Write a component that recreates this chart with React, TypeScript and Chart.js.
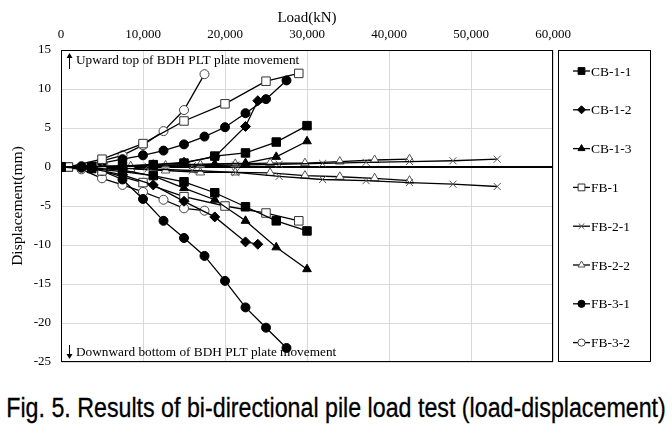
import { useEffect, useRef } from 'react';
import { Chart, registerables } from 'chart.js';
import { drawPoint } from 'chart.js/helpers';

Chart.register(...registerables);

const xTickValues = [0, 10000, 20000, 30000, 40000, 50000, 60000];
const yTickValues = [15, 10, 5, 0, -5, -10, -15, -20, -25];

const seriesNames = ['CB-1-1', 'CB-1-2', 'CB-1-3', 'FB-1', 'FB-2-1', 'FB-2-2', 'FB-3-1', 'FB-3-2'];

// CB-1-1
const cb11Load = [0, 3750, 7500, 11250, 15000, 18750, 22500, 26250, 30000];
const cb11Up = [0, 0.05, 0.15, 0.3, 0.5, 1.4, 1.8, 3.2, 5.3];
const cb11Down = [0, -0.2, -0.6, -1.1, -1.9, -3.3, -5.1, -6.9, -8.2];

// CB-1-2
const cb12Load = [0, 3750, 7500, 11250, 15000, 18750, 22500, 24000];
const cb12Up = [0, 0.05, 0.1, 0.3, 0.6, 1.3, 5.2, 8.5];
const cb12Down = [0, -0.2, -1.0, -2.3, -4.4, -6.4, -9.6, -9.9];

// CB-1-3
const cb13Load = [0, 3750, 7500, 11250, 15000, 18750, 22500, 26250, 30000];
const cb13Up = [0, 0.05, 0.1, 0.2, 0.3, 0.4, 0.5, 1.3, 3.3];
const cb13Down = [0, -0.1, -0.4, -1.15, -2.7, -4.2, -6.9, -10.3, -13.1];

// FB-1
const fb1Load = [900, 5000, 10000, 15000, 20000, 25000, 29000];
const fb1Up = [0, 1.0, 3.0, 5.9, 8.1, 11.0, 12.0];
const fb1Down = [0, -0.5, -2.0, -3.8, -5.0, -5.9, -6.9];

// FB-2-1
const fb21Load = [0, 5300, 10600, 16000, 21300, 26600, 31900, 37200, 42500, 47800, 53200];
const fb21Up = [0, 0.05, 0.1, 0.15, 0.25, 0.35, 0.47, 0.6, 0.7, 0.8, 1.0];
const fb21Down = [0, -0.1, -0.25, -0.45, -0.7, -1.2, -1.6, -1.75, -2.0, -2.2, -2.5];

// FB-2-2
const fb22Load = [0, 4250, 8500, 12750, 17000, 21250, 25500, 29750, 34000, 38250, 42500];
const fb22Up = [0, 0.05, 0.1, 0.2, 0.3, 0.4, 0.5, 0.5, 0.7, 0.9, 1.0];
const fb22Down = [0, -0.1, -0.25, -0.45, -0.7, -0.7, -0.75, -1.1, -1.25, -1.45, -1.75];

// FB-3-1
const fb31Load = [0, 2500, 5000, 7500, 10000, 12500, 15000, 17500, 20000, 22500, 25000, 27500];
const fb31Up = [0, 0.1, 0.5, 1.0, 1.5, 2.1, 2.9, 3.9, 5.1, 6.9, 8.7, 11.1];
const fb31Down = [0, -0.1, -0.5, -1.6, -4.1, -6.9, -9.1, -11.4, -14.6, -18.0, -20.6, -23.2];

// FB-3-2
const fb32Load = [0, 2500, 5000, 7500, 10000, 12500, 15000, 17500];
const fb32Up = [0, 0, 0.8, 1.5, 2.8, 4.6, 7.3, 11.9];
const fb32Down = [0, -0.3, -1.45, -2.3, -3.2, -4.2, -5.3, -5.6];

type Style = { pointStyle: string; radius: number; fill: string; border: string };

const styles: Style[] = [
  { pointStyle: 'rect', radius: 6, fill: '#000', border: '#000' },
  { pointStyle: 'rectRot', radius: 5, fill: '#000', border: '#000' },
  { pointStyle: 'triangle', radius: 5, fill: '#000', border: '#000' },
  { pointStyle: 'rect', radius: 6, fill: '#fff', border: '#333' },
  { pointStyle: 'crossRot', radius: 5, fill: '#fff', border: '#555' },
  { pointStyle: 'triangle', radius: 5, fill: '#fff', border: '#555' },
  { pointStyle: 'circle', radius: 4.5, fill: '#000', border: '#000' },
  { pointStyle: 'circle', radius: 4.5, fill: '#fff', border: '#444' },
];

const seriesData = [
  [cb11Load, cb11Up, cb11Down],
  [cb12Load, cb12Up, cb12Down],
  [cb13Load, cb13Up, cb13Down],
  [fb1Load, fb1Up, fb1Down],
  [fb21Load, fb21Up, fb21Down],
  [fb22Load, fb22Up, fb22Down],
  [fb31Load, fb31Up, fb31Down],
  [fb32Load, fb32Up, fb32Down],
];

const SERIF = '"Liberation Serif", "Times New Roman", serif';

const framePlugin = {
  id: 'frame',
  beforeDatasetsDraw(chart: any) {
    const { ctx, chartArea: a } = chart;
    ctx.save();
    ctx.strokeStyle = '#000';
    ctx.lineWidth = 1;
    ctx.strokeRect(a.left + 0.5, a.top + 0.5, a.right - a.left - 1, a.bottom - a.top - 1);
    const y0 = Math.round(chart.scales.y.getPixelForValue(0));
    ctx.lineWidth = 2;
    ctx.beginPath();
    ctx.moveTo(a.left, y0);
    ctx.lineTo(a.right, y0);
    ctx.stroke();
    ctx.restore();
  },
  afterDraw(chart: any) {
    const { ctx, chartArea: a } = chart;
    ctx.save();
    const lx = a.right + 5;
    const lw = 92;
    ctx.strokeStyle = '#000';
    ctx.lineWidth = 1;
    ctx.strokeRect(lx + 0.5, a.top + 0.5, lw, a.bottom - a.top - 1);
    ctx.font = '13.5px ' + SERIF;
    ctx.textBaseline = 'middle';
    ctx.textAlign = 'left';
    seriesNames.forEach((name, i) => {
      const y = a.top + 21 + i * 38.8;
      const s = styles[i];
      ctx.strokeStyle = '#000';
      ctx.lineWidth = 1.3;
      ctx.beginPath();
      ctx.moveTo(lx + 15, y);
      ctx.lineTo(lx + 32, y);
      ctx.stroke();
      ctx.fillStyle = s.fill;
      ctx.strokeStyle = s.border;
      ctx.lineWidth = 1;
      drawPoint(ctx, { pointStyle: s.pointStyle as any, radius: s.radius * 0.8, rotation: 0, borderWidth: 1 }, lx + 23.5, y);
      ctx.fillStyle = '#000';
      ctx.fillText(name, lx + 33, y + 1);
    });
    ctx.font = '13.3px ' + SERIF;
    ctx.fillStyle = '#000';
    ctx.strokeStyle = '#000';
    ctx.lineWidth = 1;
    const ax = a.left + 8;
    ctx.beginPath();
    ctx.moveTo(ax + 0.5, a.top + 19);
    ctx.lineTo(ax + 0.5, a.top + 5);
    ctx.stroke();
    ctx.beginPath();
    ctx.moveTo(ax + 0.5, a.top + 3);
    ctx.lineTo(ax - 2.5, a.top + 8);
    ctx.lineTo(ax + 3.5, a.top + 8);
    ctx.closePath();
    ctx.fill();
    ctx.fillText('Upward top of BDH PLT plate movement', ax + 7, a.top + 11);
    ctx.beginPath();
    ctx.moveTo(ax + 0.5, a.bottom - 17);
    ctx.lineTo(ax + 0.5, a.bottom - 5);
    ctx.stroke();
    ctx.beginPath();
    ctx.moveTo(ax + 0.5, a.bottom - 3);
    ctx.lineTo(ax - 2.5, a.bottom - 8);
    ctx.lineTo(ax + 3.5, a.bottom - 8);
    ctx.closePath();
    ctx.fill();
    ctx.fillText('Downward bottom of BDH PLT plate movement', ax + 7, a.bottom - 9);
    ctx.restore();
  },
};

export default function App() {
  const ref = useRef<HTMLCanvasElement>(null);
  useEffect(() => {
    document.body.style.margin = '0';
    const datasets: any[] = [];
    seriesData.forEach(([loads, up, down], i) => {
      const s = styles[i];
      const common = {
        borderColor: '#000',
        borderWidth: 1.3,
        pointStyle: s.pointStyle,
        pointRadius: s.radius,
        pointHoverRadius: s.radius,
        pointBackgroundColor: s.fill,
        pointBorderColor: s.border,
        pointBorderWidth: 1,
        fill: false,
        tension: 0,
      };
      datasets.push({ label: seriesNames[i], data: loads.map((x, k) => ({ x, y: up[k] })), ...common });
      datasets.push({ label: seriesNames[i] + ' (down)', data: loads.map((x, k) => ({ x, y: down[k] })), ...common });
    });
    const chart = new Chart(ref.current!, {
      type: 'line',
      data: { datasets },
      plugins: [framePlugin],
      options: {
        animation: false,
        responsive: true,
        maintainAspectRatio: false,
        layout: { padding: { left: 0, top: 0, right: 119, bottom: 18 } },
        plugins: { legend: { display: false }, tooltip: { enabled: false } },
        scales: {
          x: {
            type: 'linear',
            position: 'top',
            min: 0,
            max: 60000,
            afterBuildTicks: (scale: any) => {
              scale.ticks = xTickValues.map((v) => ({ value: v }));
            },
            afterFit: (scale: any) => {
              scale.height = 50;
            },
            ticks: {
              color: '#000',
              font: { family: SERIF, size: 13 },
              padding: 8,
              maxRotation: 0,
              callback: (v: any) => Number(v).toLocaleString('en-US'),
            },
            grid: { color: '#d9d9d9', lineWidth: 1, drawTicks: false },
            border: { display: false },
            title: {
              display: true,
              text: 'Load(kN)',
              color: '#000',
              font: { family: SERIF, size: 15 },
              padding: { top: 9, bottom: 0 },
            },
          },
          y: {
            type: 'linear',
            min: -25,
            max: 15,
            afterBuildTicks: (scale: any) => {
              scale.ticks = yTickValues.map((v) => ({ value: v }));
            },
            afterFit: (scale: any) => {
              scale.width = 61;
            },
            ticks: {
              color: '#000',
              font: { family: SERIF, size: 13 },
              padding: 10,
            },
            grid: { color: '#d9d9d9', lineWidth: 1, drawTicks: false },
            border: { display: false },
            title: {
              display: true,
              text: 'Displacement(mm)',
              color: '#000',
              font: { family: SERIF, size: 15.5 },
              padding: { top: 9, bottom: 0 },
            },
          },
        },
      },
    });
    return () => chart.destroy();
  }, []);
  return (
    <div style={{ position: 'relative', width: 672, height: 426, background: '#fff', overflow: 'hidden' }}>
      <div style={{ position: 'absolute', left: 0, top: 0, width: 672, height: 380 }}>
        <canvas ref={ref} />
      </div>
      <div
        style={{
          position: 'absolute',
          left: 336,
          top: 392,
          transform: 'translateX(-50%) scaleX(0.86)',
          transformOrigin: 'center',
          fontFamily: '"Liberation Sans", Arial, sans-serif',
          fontSize: 27,
          lineHeight: '32px',
          color: '#000',
          whiteSpace: 'nowrap',
          WebkitTextStroke: '0.3px #000',
        }}
      >
        Fig. 5. Results of bi-directional pile load test (load-displacement)
      </div>
    </div>
  );
}
